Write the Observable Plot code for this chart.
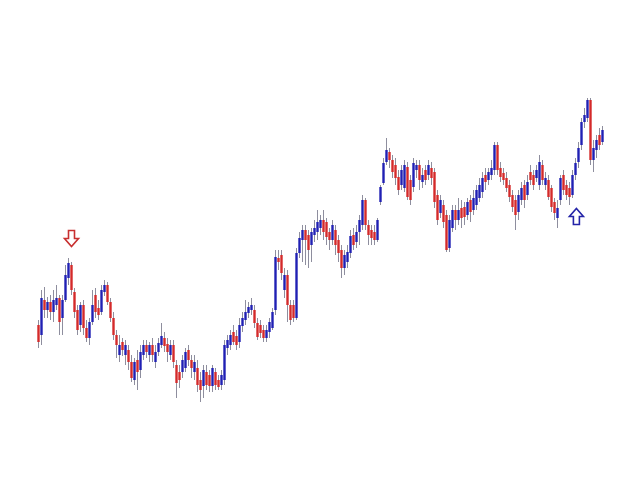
<!DOCTYPE html>
<html>
<head>
<meta charset="utf-8">
<script src="https://cdn.jsdelivr.net/npm/d3@7"></script>
<script src="https://cdn.jsdelivr.net/npm/@observablehq/plot@0.6"></script>
<style>
  html, body { margin: 0; padding: 0; background: #fff; }
</style>
</head>
<body>
<div id="chart"></div>
<script>
const opens = [155,145,180,170,178,168,175,182,162,180,202,215,188,170,155,175,152,142,158,185,172,168,188,195,178,162,145,125,138,125,130,118,100,120,110,125,135,125,135,118,128,135,142,136,125,135,115,108,108,112,130,120,108,112,100,94,108,105,94,108,100,95,100,132,135,148,144,138,154,160,167,170,170,157,155,150,142,148,152,170,222,225,190,205,175,175,162,227,240,250,245,235,245,248,252,260,258,248,240,250,240,230,212,218,227,245,238,248,255,280,255,250,248,240,278,297,318,328,320,315,303,295,292,313,300,293,310,315,298,310,305,312,308,285,267,275,265,232,252,270,260,272,273,265,280,270,275,282,288,305,300,305,310,335,312,307,302,295,285,280,268,280,295,285,308,305,302,295,315,295,300,292,278,262,280,305,295,292,285,305,318,335,358,362,380,320,330,345,338];
const closes = [138,182,170,178,168,180,182,158,180,205,217,190,168,150,175,152,142,158,175,168,165,190,195,178,162,145,135,135,130,135,118,102,118,108,128,135,128,135,125,128,137,144,134,128,135,118,97,100,120,128,120,112,118,95,90,110,95,94,112,95,93,105,135,140,145,138,135,155,162,168,173,175,157,143,147,142,150,158,168,223,218,207,205,175,160,162,227,242,250,240,230,248,252,258,260,248,243,240,255,235,227,212,225,228,244,235,248,260,280,255,245,242,240,260,293,317,330,320,308,302,290,310,315,283,280,317,315,300,305,300,315,302,278,260,280,258,230,260,270,260,270,262,263,278,268,282,290,295,302,298,308,312,335,310,303,300,292,283,273,265,285,292,280,298,300,295,310,318,300,302,283,273,267,272,302,290,285,283,305,317,332,358,365,380,320,332,340,335,350];
const highs = [160,190,193,183,185,190,195,185,185,215,222,218,192,175,178,180,160,162,190,192,180,195,200,198,182,168,150,145,142,140,135,125,122,130,135,140,140,138,142,135,142,157,148,142,140,140,120,115,125,132,135,125,125,120,108,115,115,110,115,112,105,110,140,145,150,155,150,162,168,180,178,182,175,162,160,155,155,162,172,230,230,230,212,210,180,180,232,248,255,255,250,252,260,270,265,270,262,252,260,255,245,235,230,235,250,252,255,265,285,282,260,255,255,262,295,322,342,332,325,322,310,315,320,318,305,322,320,320,312,315,320,318,312,290,285,280,270,265,275,275,282,280,278,282,285,290,295,302,308,312,312,320,338,338,318,312,308,300,290,285,290,298,300,305,315,310,315,325,320,308,305,295,282,280,305,310,300,298,310,322,338,362,372,382,382,340,345,352,354];
const lows = [132,135,162,162,160,158,170,145,145,178,195,185,162,145,148,145,138,135,155,162,160,165,184,175,158,140,122,118,124,115,110,98,95,90,102,120,122,118,118,112,124,132,128,118,120,112,82,92,102,108,114,102,100,88,78,82,90,88,88,90,90,90,95,125,130,135,130,132,148,155,162,165,152,140,142,138,138,142,150,165,210,200,182,158,155,158,160,222,218,215,212,218,238,240,245,240,235,230,235,225,218,202,205,212,222,230,232,235,250,250,235,235,235,238,275,295,315,312,302,295,285,290,288,280,275,288,302,290,292,295,300,295,272,255,262,252,228,228,248,250,255,252,255,260,258,265,270,278,282,290,295,300,305,305,298,295,288,278,268,250,260,275,272,280,295,290,298,290,295,290,280,268,260,252,275,285,280,275,282,300,312,330,352,358,315,308,322,330,335];

const arrowIdx = [11, 179.3];
const arrowPrice = [242, 264];
const arrowDir = ["down", "up"];
const arrowColor = ["#c83030", "#2424a8"];

const candles = opens.map((o, i) => ({
  i, open: o, close: closes[i], high: highs[i], low: lows[i],
  up: closes[i] > o
}));
const arrows = arrowIdx.map((i, k) => ({i, price: arrowPrice[k], dir: arrowDir[k], color: arrowColor[k]}));

function hollowArrow(sign) {
  return {
    draw(ctx, size) {
      const s = Math.sqrt(size / Math.PI) / 8;
      const p = [[-3, -8], [3, -8], [3, 0], [7, 0], [0, 8], [-7, 0], [-3, 0]];
      ctx.moveTo(p[0][0] * s, p[0][1] * s * sign);
      for (let k = 1; k < p.length; ++k) ctx.lineTo(p[k][0] * s, p[k][1] * s * sign);
      ctx.closePath();
    }
  };
}

const chart = Plot.plot({
  width: 640,
  height: 480,
  margin: 0,
  x: {domain: [0, opens.length - 1], range: [38, 602], axis: null},
  y: {domain: [0, 480], axis: null},
  marks: [
    Plot.ruleX(candles, {x: "i", y1: "low", y2: "high", stroke: "#8e8e9e", strokeWidth: 1}),
    Plot.ruleX(candles, {x: "i", y1: "open", y2: "close", stroke: d => d.up ? "#2020b4" : "#d42a2a", strokeWidth: 2.4}),
    Plot.dot(arrows.filter(d => d.dir === "down"), {x: "i", y: "price", r: 8, symbol: hollowArrow(1), fill: "white", stroke: "color", strokeWidth: 1.6}),
    Plot.dot(arrows.filter(d => d.dir === "up"), {x: "i", y: "price", r: 8, symbol: hollowArrow(-1), fill: "white", stroke: "color", strokeWidth: 1.6})
  ]
});
document.getElementById("chart").appendChild(chart);
</script>
</body>
</html>
